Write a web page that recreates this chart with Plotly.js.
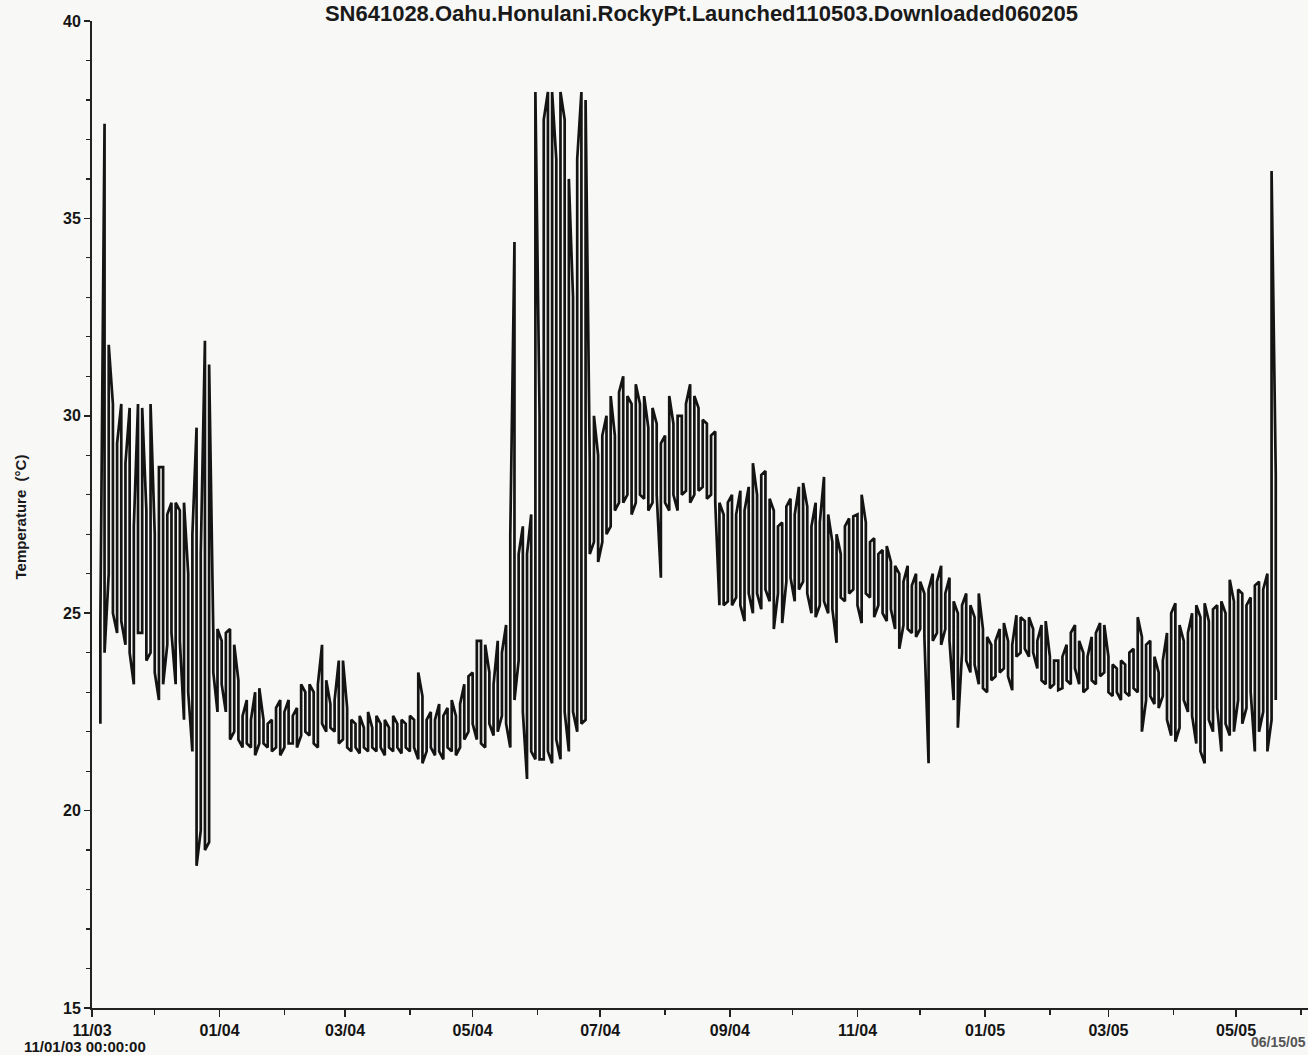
<!DOCTYPE html>
<html>
<head>
<meta charset="utf-8">
<script src="https://cdn.plot.ly/plotly-3.0.1.min.js"></script>
<style>
  html, body { margin: 0; padding: 0; background: #f8f8f6; overflow: hidden; }
  #chart { width: 1308px; height: 1055px; }
</style>
</head>
<body>
<div id="chart"></div>
<script>
// ---- data (one reading pair every 2 days) ----
const chartTitle = 'SN641028.Oahu.Honulani.RockyPt.Launched110503.Downloaded060205';
const yAxisLabel = 'Temperature  (°C)';
const startLabel = '11/01/03 00:00:00';
const endLabel = '06/15/05';
const firstSampleDate = '2003-11-05';
const sampleStepDays = 2;

// daily low readings (°C)
const lowTemps = [
  22.2, 24.0, 26.0, 25.0, 24.5, 24.8, 24.2, 24.0, 23.2, 24.5, 24.5, 23.8, 24.0, 23.5, 22.8, // Nov 03
  23.2, 24.2, 24.5, 23.2, 24.3, 22.3, 23.0, 21.5, 18.6, 19.5, 19.0, 19.2, 23.5, 22.5, 23.2, // Dec 03
  22.5, 21.8, 22.0, 21.8, 21.6, 21.7, 21.6, 21.4, 21.7, 21.7, 21.6, 21.5, 21.6, 21.4, 21.6, // Jan 04
  21.7, 21.7, 21.6, 21.9, 22.0, 21.9, 21.7, 21.6, 22.2, 22.0, 22.1, 22.0, 21.7, 21.8, 21.6, // Feb 04
  21.5, 21.6, 21.45, 21.6, 21.5, 21.6, 21.5, 21.6, 21.4, 21.6, 21.5, 21.6, 21.45, 21.6, 21.5, // Mar 04
  21.6, 21.3, 21.2, 21.5, 21.6, 21.4, 21.5, 21.3, 21.6, 21.5, 21.4, 21.6, 21.8, 22.0, 22.2, // Apr 04
  21.8, 21.7, 21.6, 22.2, 21.9, 22.0, 22.4, 22.2, 21.6, 22.8, 23.8, 22.5, 20.8, 21.5, 21.3, // May 04
  21.3, 21.3, 21.5, 21.2, 21.8, 21.3, 22.5, 21.5, 22.5, 22.0, 22.2, 22.3, 26.5, 26.8, 26.3, // Jun 04
  26.8, 27.0, 27.2, 27.6, 27.8, 27.8, 28.0, 27.5, 27.8, 28.0, 27.9, 27.6, 27.8, 28.0, 25.9, // Jul 04
  27.8, 27.6, 28.0, 27.6, 28.0, 28.1, 27.8, 28.0, 28.1, 28.2, 27.9, 28.0, 27.8, 25.2, 25.2, // Aug 04
  25.3, 25.2, 25.4, 25.2, 24.8, 25.5, 25.0, 25.5, 25.1, 25.6, 25.3, 24.6, 25.5, 24.75, 25.8, // Sep 04
  25.9, 25.3, 25.6, 25.8, 25.5, 25.0, 24.9, 25.2, 25.3, 25.0, 25.1, 24.25, 25.4, 25.3, 25.5, // Oct 04
  25.6, 25.2, 24.75, 25.5, 25.4, 24.9, 25.2, 25.0, 24.8, 25.1, 24.6, 24.1, 24.7, 24.6, 24.5, // Nov 04
  24.4, 24.6, 24.4, 21.2, 24.3, 24.5, 24.2, 24.6, 24.3, 22.8, 22.1, 24.0, 23.8, 23.5, 23.7, // Dec 04
  23.2, 23.1, 23.0, 23.3, 23.4, 23.5, 23.6, 23.4, 23.05, 23.9, 24.0, 24.1, 23.9, 24.0, 23.6, // Jan 05
  23.3, 23.2, 23.1, 23.2, 23.05, 23.1, 23.3, 23.2, 23.6, 23.2, 23.0, 23.1, 23.3, 23.2, 23.4, // Feb 05
  23.5, 23.0, 22.9, 23.0, 22.8, 23.0, 22.9, 23.1, 23.0, 22.0, 22.8, 22.9, 22.7, 22.6, 22.9, // Mar 05
  22.3, 21.9, 21.75, 22.1, 22.8, 22.5, 22.4, 21.7, 21.5, 21.2, 22.3, 22.0, 22.6, 21.5, 22.2, // Apr 05
  21.9, 22.0, 22.8, 22.2, 22.6, 23.0, 21.5, 22.0, 22.5, 21.5, 22.3, 22.8                      // May 05
];

// daily high readings (°C)
const highTemps = [
  24.8, 37.4, 31.8, 30.3, 29.3, 30.3, 28.8, 30.2, 27.2, 30.3, 30.2, 27.6, 30.3, 27.0, 28.7, // Nov 03
  28.7, 27.5, 27.8, 27.8, 27.6, 27.8, 26.0, 27.0, 29.7, 26.5, 31.9, 31.3, 24.5, 24.6, 24.3, // Dec 03
  24.5, 24.6, 24.2, 23.3, 22.4, 22.8, 22.3, 23.0, 23.1, 22.3, 22.2, 22.3, 22.6, 22.8, 22.5, // Jan 04
  22.8, 22.4, 22.6, 23.2, 23.0, 23.2, 23.0, 23.2, 24.2, 23.3, 22.7, 22.8, 23.8, 23.8, 22.6, // Feb 04
  22.3, 22.2, 22.4, 22.1, 22.5, 22.1, 22.4, 22.2, 22.3, 22.1, 22.4, 22.2, 22.3, 22.2, 22.4, // Mar 04
  22.3, 23.5, 22.9, 22.3, 22.5, 22.3, 22.7, 22.4, 22.6, 22.8, 22.4, 22.7, 23.2, 23.4, 23.5, // Apr 04
  24.3, 24.3, 24.2, 23.5, 23.2, 24.3, 24.0, 24.7, 27.0, 34.4, 26.5, 27.2, 26.5, 27.5, 38.2, // May 04
  30.0, 37.5, 38.2, 38.2, 36.5, 38.2, 37.5, 36.0, 33.0, 36.5, 38.2, 38.0, 28.8, 30.0, 29.0, // Jun 04
  29.5, 30.0, 30.5, 29.5, 30.6, 31.0, 30.5, 30.3, 30.8, 30.3, 30.5, 29.7, 30.2, 29.8, 29.3, // Jul 04
  29.5, 30.5, 29.8, 30.0, 30.0, 30.3, 30.8, 30.5, 30.2, 29.9, 29.8, 29.5, 29.6, 27.8, 27.5, // Aug 04
  27.8, 28.0, 27.5, 28.1, 27.6, 28.2, 28.8, 28.0, 28.5, 28.6, 27.9, 27.6, 27.2, 27.3, 27.7, // Sep 04
  27.9, 27.5, 28.2, 28.3, 27.7, 27.2, 27.8, 27.3, 28.45, 27.5, 26.8, 27.0, 26.5, 27.2, 27.4, // Oct 04
  27.45, 27.5, 28.0, 27.3, 26.8, 26.9, 26.5, 26.6, 26.7, 26.3, 26.2, 26.0, 25.8, 26.2, 25.7, // Nov 04
  26.0, 25.8, 25.5, 25.6, 26.0, 25.8, 26.2, 25.5, 25.9, 25.3, 25.0, 25.2, 25.5, 25.2, 24.9, // Dec 04
  25.5, 24.6, 24.4, 24.2, 24.3, 24.6, 24.75, 24.3, 24.2, 24.95, 24.9, 24.8, 24.9, 24.6, 24.3, // Jan 05
  24.7, 24.8, 23.9, 23.8, 23.8, 23.9, 24.2, 24.5, 24.7, 24.3, 24.0, 23.9, 24.4, 24.5, 24.75, // Feb 05
  24.7, 23.9, 23.7, 23.6, 23.8, 23.7, 24.0, 24.1, 24.9, 24.4, 24.2, 24.3, 23.9, 23.5, 23.8, // Mar 05
  24.5, 25.0, 25.25, 24.7, 24.3, 24.5, 25.0, 25.2, 24.9, 25.25, 24.8, 25.1, 25.2, 25.3, 25.0, // Apr 05
  25.85, 25.3, 25.6, 25.5, 25.2, 25.4, 25.7, 25.8, 25.6, 26.0, 36.2, 28.5                     // May 05
];

// ---- build the trace: each reading pair drawn as a vertical swing ----
function sampleDate(i) {
  const t0 = Date.parse(firstSampleDate + 'T00:00:00Z');
  const d = new Date(t0 + i * sampleStepDays * 86400000);
  return d.toISOString().slice(0, 10);
}
const xs = [], ys = [];
for (let i = 0; i < lowTemps.length; i++) {
  const d = sampleDate(i);
  if (i % 2 === 0) { xs.push(d, d); ys.push(lowTemps[i], highTemps[i]); }
  else { xs.push(d, d); ys.push(highTemps[i], lowTemps[i]); }
}

const FONT = 'Liberation Sans, Arial, sans-serif';
const tickFont = { family: FONT, size: 16, color: '#151515', weight: 'bold' };

const trace = {
  type: 'scatter', mode: 'lines', x: xs, y: ys,
  line: { color: '#141414', width: 2.7 },
  hoverinfo: 'skip', showlegend: false
};

const layout = {
  width: 1308, height: 1055,
  margin: { l: 92, r: 0, t: 21, b: 47, pad: 0 },
  paper_bgcolor: '#f8f8f6', plot_bgcolor: '#f8f8f6',
  showlegend: false,
  title: {
    text: chartTitle,
    font: { family: FONT, size: 22, color: '#1a1a1a', weight: 'bold' },
    x: 0.5363, xanchor: 'center', y: 0.9945, yanchor: 'top', yref: 'container',
    pad: { t: 0, b: 0, l: 0, r: 0 }
  },
  xaxis: {
    type: 'date',
    range: ['2003-11-01', '2005-06-04 10:00'],
    tick0: '2003-11-01', dtick: 'M2', tickformat: '%m/%y',
    ticks: 'outside', ticklen: 7, tickwidth: 1.5, tickcolor: '#222',
    showline: true, linecolor: '#222', linewidth: 2,
    showgrid: false, zeroline: false,
    tickfont: tickFont,
    minor: { dtick: 'M1', tick0: '2003-11-01', ticks: 'outside', ticklen: 5, tickwidth: 1.5, tickcolor: '#222', showgrid: false }
  },
  yaxis: {
    range: [15, 40], dtick: 5, tick0: 15,
    ticks: 'outside', ticklen: 6, tickwidth: 1.5, tickcolor: '#222',
    showline: true, linecolor: '#222', linewidth: 2,
    showgrid: false, zeroline: false,
    tickfont: tickFont,
    minor: { dtick: 1, ticks: 'outside', ticklen: 4, tickwidth: 1.2, tickcolor: '#222', showgrid: false }
  },
  annotations: [
    { text: yAxisLabel, xref: 'paper', yref: 'paper', x: 0, y: 0.497, xshift: -72,
      xanchor: 'center', yanchor: 'middle', textangle: -90, showarrow: false,
      font: { family: FONT, size: 15, color: '#1a1a1a', weight: 'bold' } },
    { text: startLabel, xref: 'paper', yref: 'paper', x: 0, y: 0, xshift: -70, yshift: -38.5,
      xanchor: 'left', yanchor: 'middle', showarrow: false,
      font: { family: FONT, size: 15, color: '#151515', weight: 'bold' } },
    { text: endLabel, xref: 'paper', yref: 'paper', x: 1, y: 0, xshift: 0, yshift: -34,
      xanchor: 'right', yanchor: 'middle', showarrow: false,
      font: { family: FONT, size: 14, color: '#555', weight: 'bold' } }
  ]
};

Plotly.newPlot('chart', [trace], layout, { staticPlot: true, displayModeBar: false });
</script>
</body>
</html>
